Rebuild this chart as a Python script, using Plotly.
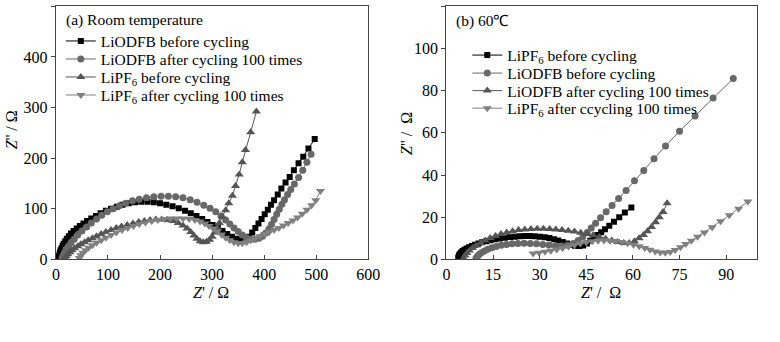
import plotly.graph_objects as go

# ---------------- (a) Room temperature ----------------
a_names = ["LiODFB before cycling", "LiODFB after cycling 100 times",
           "LiPF<sub>6</sub> before cycling", "LiPF<sub>6</sub> after cycling 100 times"]

a1_x = [5, 6, 7, 8, 9, 11, 13, 15, 18, 21, 25, 29, 34, 40, 46, 53, 60, 68, 77, 86, 96, 106, 117, 128, 140, 152,
        164, 176, 188, 200, 212, 224, 236, 248, 259, 270, 281, 291, 301, 311, 320, 329, 338, 347, 356, 364, 371,
        377, 383, 389, 395, 401, 407, 413, 419, 426, 433, 441, 449, 457, 466, 475, 485, 497]
a1_y = [2, 6, 10, 14, 18, 22, 27, 31, 36, 41, 46, 51, 56, 61, 66, 71, 76, 81, 86, 91, 96, 100, 104, 108, 111, 113,
        114, 114, 113, 111, 108, 105, 101, 96, 91, 86, 80, 74, 68, 62, 56, 50, 45, 41, 39, 40, 45,
        53, 62, 71, 80, 89, 98, 108, 117, 128, 140, 152, 163, 176, 190, 203, 219, 238]

a2_x = [12, 14, 17, 20, 24, 29, 35, 42, 50, 59, 68, 78, 88, 99, 110, 122, 134, 147, 160, 174, 188, 202, 216, 230,
        244, 258, 271, 284, 296, 307, 317, 326, 334, 342, 350, 358, 366, 374, 382, 390, 397, 403, 409, 414, 419,
        424, 429, 434, 439, 445, 451, 458, 466, 474, 482, 490]
a2_y = [3, 8, 14, 20, 26, 33, 40, 48, 56, 64, 72, 80, 87, 94, 100, 106, 111, 116, 119, 122, 124, 125, 125, 124,
        122, 118, 113, 107, 101, 94, 86, 78, 70, 62, 55, 48, 43, 40, 40, 42, 46, 52, 60, 69, 79,
        89, 99, 109, 118, 128, 138, 149, 162, 176, 192, 208]

a3_x = [18, 20, 23, 27, 31, 36, 42, 48, 55, 62, 70, 78, 87, 96, 106, 116, 126, 137, 148, 159, 170, 181, 192, 203,
        214, 225, 235, 244, 252, 259, 265, 271, 277, 283, 289, 295, 300, 305, 310, 314, 320, 326, 332, 339, 345,
        352, 358, 364, 374, 385]
a3_y = [2, 6, 10, 14, 18, 22, 26, 30, 34, 38, 42, 46, 50, 54, 58, 62, 65, 68, 71, 74, 76, 78, 79, 79,
        78, 76, 72, 67, 61, 54, 47, 41, 36, 34, 35, 39, 45, 53, 62, 72, 84, 97, 111, 126, 145,
        168, 192, 216, 251, 292]

a4_x = [45, 48, 52, 57, 63, 70, 78, 87, 96, 106, 116, 127, 138, 149, 160, 172, 184, 196, 208, 220, 232, 244, 256,
        267, 277, 286, 294, 302, 310, 318, 326, 334, 342, 350, 358, 366, 374, 383, 392, 401, 410, 419, 428, 437,
        446, 455, 464, 473, 482, 491, 499, 508]
a4_y = [3, 8, 13, 18, 23, 28, 33, 38, 43, 48, 53, 58, 62, 66, 70, 73, 76, 78, 80, 81, 81, 81, 80,
        78, 75, 71, 66, 61, 55, 49, 43, 38, 34, 32, 32, 34, 38, 42, 46, 50, 54, 58, 62, 67,
        72, 77, 83, 90, 98, 107, 117, 135]

# ---------------- (b) 60 ℃ ----------------
b_names = ["LiPF<sub>6</sub> before cycling", "LiODFB before cycling",
           "LiODFB after cycling 100 times", "LiPF<sub>6</sub> after ccycling 100 times"]

b1_x = [3.8, 4.0, 4.3, 4.7, 5.2, 5.8, 6.5, 7.3, 8.2, 9.2, 10.3, 11.5, 12.8, 14.2, 15.7, 17.2, 18.8, 20.4, 22.0,
        23.6, 25.2, 26.8, 28.4, 30.0, 31.6, 33.1, 34.6, 36.0, 37.4, 38.8, 40.1, 41.4, 42.7, 44.0, 45.2, 46.3,
        47.4, 48.6, 49.8, 51.0, 52.4, 53.9, 55.6, 57.4, 59.5]
b1_y = [0.8, 1.8, 2.6, 3.3, 4.0, 4.6, 5.2, 5.8, 6.4, 7.0, 7.6, 8.1, 8.6, 9.1, 9.5, 9.9, 10.3, 10.6, 10.8,
        11.0, 11.1, 11.1, 11.0, 10.8, 10.5, 10.1, 9.6, 9.0, 8.3, 7.6, 7.0, 6.5, 6.3, 6.6, 7.6, 8.9,
        10.2, 11.6, 12.9, 14.3, 16.0, 17.9, 20.0, 22.2, 24.6]

b2_x = [9.5, 10.0, 10.6, 11.3, 12.2, 13.3, 14.6, 16.0, 17.6, 19.3, 21.1, 23.0, 25.0, 27.0, 29.0, 31.0, 33.0, 35.0,
        37.0, 39.0, 40.8, 42.4, 43.9, 45.3, 46.6, 48.0, 49.6, 51.4, 53.3, 55.4, 57.8, 60.5, 63.5, 66.8, 70.5,
        75.0, 80.0, 85.8, 92.3]
b2_y = [0.5, 1.5, 2.4, 3.2, 4.0, 4.8, 5.5, 6.1, 6.7, 7.1, 7.4, 7.6, 7.7, 7.6, 7.4, 7.1, 6.8, 6.5,
        6.4, 6.7, 7.6, 9.0, 10.8, 12.8, 14.9, 17.2, 19.8, 22.6, 25.6, 28.9, 32.7, 37.3, 42.2, 47.7, 53.8,
        60.8, 68.0, 76.5, 85.8]

b3_x = [5.5, 6.0, 6.6, 7.4, 8.4, 9.6, 11.0, 12.5, 14.1, 15.8, 17.6, 19.4, 21.3, 23.2, 25.2, 27.2, 29.2, 31.2,
        33.2, 35.2, 37.2, 39.2, 41.2, 43.2, 45.2, 47.2, 49.2, 51.2, 53.2, 55.1, 57.0, 58.8, 60.5, 62.0, 63.4,
        64.7, 66.0, 67.3, 68.5, 69.7, 71.0]
b3_y = [0.5, 1.8, 3.0, 4.2, 5.4, 6.6, 7.8, 9.0, 10.1, 11.1, 12.0, 12.8, 13.4, 13.9, 14.2, 14.4, 14.5, 14.5,
        14.4, 14.2, 14.0, 13.6, 13.2, 12.7, 12.1, 11.4, 10.6, 9.8, 9.0, 8.3, 7.8, 7.8, 8.6, 10.0, 11.6,
        13.4, 15.4, 17.6, 20.0, 22.5, 26.6]

b4_x = [27.9, 29.8, 31.7, 33.6, 35.5, 37.4, 39.3, 41.2, 43.1, 45.0, 46.9, 48.8, 50.7, 52.6, 54.5, 56.4, 58.3,
        60.2, 62.0, 63.8, 65.5, 67.2, 68.8, 70.4, 72.0, 73.6, 75.3, 77.0, 78.8, 80.8, 83.0, 85.5, 88.2, 91.0,
        94.0, 97.0]
b4_y = [2.8, 3.2, 3.6, 4.1, 4.7, 5.4, 6.1, 6.8, 7.5, 8.1, 8.6, 8.9, 9.0, 8.9, 8.7, 8.3, 7.7,
        7.0, 6.2, 5.4, 4.6, 3.8, 3.3, 3.2, 3.5, 4.5, 5.8, 7.3, 8.9, 10.8, 12.8, 15.2, 18.1, 20.9,
        24.0, 27.5]

x_ticks_a = [0, 100, 200, 300, 400, 500, 600]
y_ticks_a = [0, 100, 200, 300, 400, 500]
x_ticks_b = [0, 15, 30, 45, 60, 75, 90]
y_ticks_b = [0, 20, 40, 60, 80, 100, 120]

FONT = "Liberation Serif"
colors = ["#000000", "#686868", "#555555", "#808080"]
symbols = ["square", "circle", "triangle-up", "triangle-down"]
sizes = [6, 7, 8, 8]

# legend row centres (pixels from top)
rows_a = [42.5, 61, 79.5, 98]
rows_b = [57, 75.5, 93.5, 111.5]

fig = go.Figure()
a_data = [(a1_x, a1_y), (a2_x, a2_y), (a3_x, a3_y), (a4_x, a4_y)]
b_data = [(b1_x, b1_y), (b2_x, b2_y), (b3_x, b3_y), (b4_x, b4_y)]
legends = {}
for i, (xs, ys) in enumerate(a_data):
    lg = "legend" if i == 0 else f"legend{i + 1}"
    fig.add_trace(go.Scatter(x=xs, y=ys, name=a_names[i], mode="lines+markers",
                             line=dict(color=colors[i], width=1),
                             marker=dict(symbol=symbols[i], size=sizes[i], color=colors[i]),
                             xaxis="x", yaxis="y", legend=lg))
    legends[lg] = dict(x=58 / 780, y=1 - rows_a[i] / 342)
for i, (xs, ys) in enumerate(b_data):
    lg = f"legend{i + 5}"
    fig.add_trace(go.Scatter(x=xs, y=ys, name=b_names[i], mode="lines+markers",
                             line=dict(color=colors[i], width=1),
                             marker=dict(symbol=symbols[i], size=sizes[i], color=colors[i]),
                             xaxis="x2", yaxis="y2", legend=lg))
    legends[lg] = dict(x=473 / 780, y=1 - rows_b[i] / 342)

for lg, pos in legends.items():
    legends[lg] = dict(x=pos["x"], y=pos["y"], xanchor="left", yanchor="middle",
                       bgcolor="rgba(0,0,0,0)", font=dict(family=FONT, size=15.5, color="#000"),
                       itemwidth=30)

axis_common = dict(showline=True, linecolor="#444444", linewidth=1.3, mirror=True, showgrid=False,
                   zeroline=False, ticklen=4, tickcolor="#444444", tickwidth=1,
                   tickfont=dict(family=FONT, size=16, color="#000"))
ydom = [0.221, 0.981]
fig.update_layout(
    width=780, height=342, margin=dict(l=0, r=0, t=0, b=0),
    paper_bgcolor="white", plot_bgcolor="white",
    font=dict(family=FONT, size=15.5, color="#000"),
    xaxis=dict(domain=[0.0679, 0.4769], range=[0, 600], tickvals=x_ticks_a, ticks="inside", **axis_common),
    yaxis=dict(domain=ydom, range=[0, 500], tickvals=y_ticks_a, ticks="outside", **axis_common),
    xaxis2=dict(domain=[0.5791, 0.9859], range=[0, 100], tickvals=x_ticks_b, ticks="inside",
                anchor="y2", **axis_common),
    yaxis2=dict(domain=ydom, range=[0, 120], tickvals=y_ticks_b, ticks="outside", anchor="x2", **axis_common),
    showlegend=True,
    **legends,
)

ann = [
    dict(text="(a) Room temperature", x=61 / 780, y=1 - 21 / 342, xanchor="left", yanchor="middle",
         font=dict(size=15.5)),
    dict(text="(b) 60℃", x=459 / 780, y=1 - 22 / 342, xanchor="left", yanchor="middle", font=dict(size=15.5)),
    dict(text="<i>Z</i>' / Ω", x=211 / 780, y=1 - 300 / 342, xanchor="center", yanchor="middle",
         font=dict(size=16)),
    dict(text="<i>Z</i>' /  Ω", x=609 / 780, y=1 - 300 / 342, xanchor="center", yanchor="middle",
         font=dict(size=16)),
    dict(text="<i>Z</i>'' / Ω", x=8 / 780, y=1 - 133 / 342, xanchor="center", yanchor="middle",
         textangle=-90, font=dict(size=16)),
    dict(text="<i>Z</i>'' /  Ω", x=411 / 780, y=1 - 137 / 342, xanchor="center", yanchor="middle",
         textangle=-90, font=dict(size=16)),
]
for a in ann:
    a.update(xref="paper", yref="paper", showarrow=False)
    fig.add_annotation(**a)

fig.write_html("out.html")
